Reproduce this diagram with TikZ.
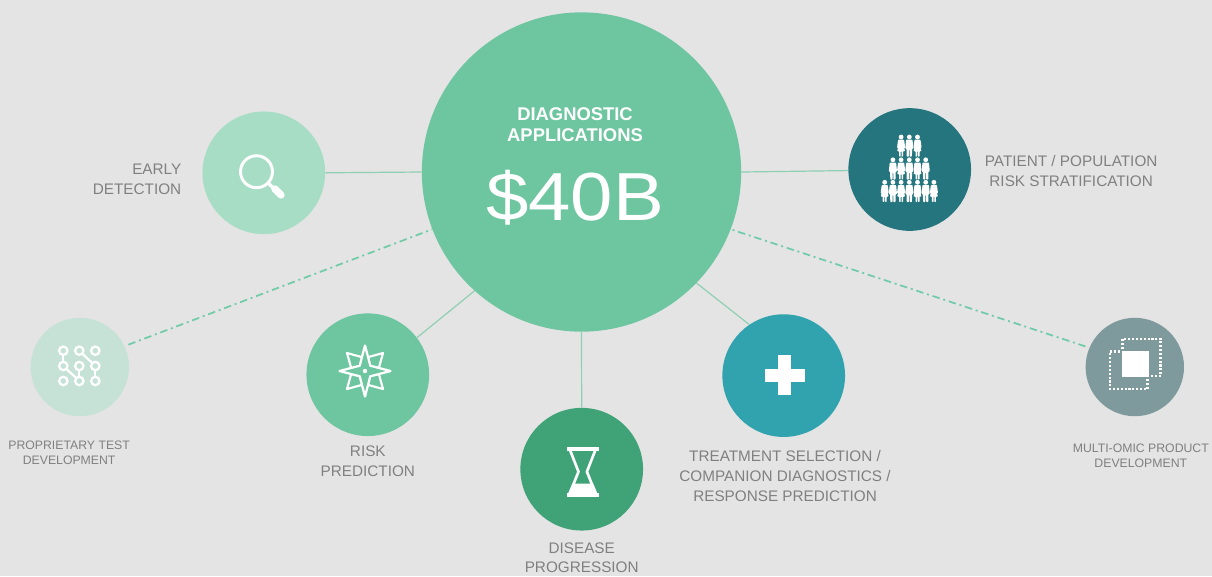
\documentclass[tikz,border=0pt]{standalone}
\usepackage{fontspec}
\setmainfont{Liberation Sans}
\usetikzlibrary{positioning}

\definecolor{paper}{HTML}{E4E4E4}
\definecolor{hubgreen}{HTML}{6EC6A0}
\definecolor{earlygreen}{HTML}{A8DDC5}
\definecolor{testgreen}{HTML}{C6E2D7}
\definecolor{darkgreen}{HTML}{3FA377}
\definecolor{petrol}{HTML}{25757F}
\definecolor{teal}{HTML}{31A3AE}
\definecolor{slate}{HTML}{7F9A9C}
\definecolor{linkgreen}{HTML}{8FD0B4}
\definecolor{dashgreen}{HTML}{6FCBA8}
\definecolor{textgray}{HTML}{808080}

\tikzset{
  walker/.pic={
    \fill[white] (0,2.3) circle (2.4);
    \fill[white,rounded corners=0.5] (-4.1,14) -- (-3.2,5) -- (3.2,5) -- (4.1,14) -- (2.8,14) -- (2.6,22) -- (0.4,22) -- (0.4,15) -- (-0.4,15) -- (-0.4,22) -- (-2.6,22) -- (-2.8,14) -- cycle;
  },
  walkerdress/.pic={
    \fill[white] (0,2.3) circle (2.4);
    \fill[white,rounded corners=0.5] (-4.1,13) -- (-3,5) -- (3,5) -- (4.1,13) -- (3,13) -- (4,16.5) -- (2,16.5) -- (2,22) -- (0.4,22) -- (0.4,16.5) -- (-0.4,16.5) -- (-0.4,22) -- (-2,22) -- (-2,16.5) -- (-4,16.5) -- (-3,13) -- cycle;
  }
}

\begin{document}
\begin{tikzpicture}[x=0.75pt, y=-0.75pt]
    % Define styles
    \tikzstyle{spot}=[circle,inner sep=0pt,minimum size=92pt]
    \tikzstyle{smallspot}=[circle,inner sep=0pt,minimum size=73.8pt]
    \tikzstyle{caption}=[inner sep=0pt,align=center,text=textgray,font=\fontsize{11.47}{15}\selectfont]
    \tikzstyle{smallcaption}=[inner sep=0pt,align=center,text=textgray,font=\fontsize{9.2}{11.25}\selectfont]
    \tikzstyle{link}=[draw=linkgreen,line width=0.9pt]
    \tikzstyle{dashlink}=[draw=dashgreen,line width=1.3pt,dash pattern=on 5.6pt off 2.85pt on 1.5pt off 2.85pt]
    \tikzstyle{icon}=[draw=white,line width=2pt]

    % Page
    \fill[paper] (0,0) rectangle (1212,576);
    \useasboundingbox (0,0) rectangle (1212,576);

    % Circles
    \node [circle,inner sep=0pt,minimum size=239.5pt,fill=hubgreen] (hub) at (581.5,172) {};
    \node [spot,fill=earlygreen] (early) at (263.8,172.8) {};
    \node [spot,fill=petrol] (patient) at (909.7,169.5) {};
    \node [smallspot,fill=testgreen] (proprietary) at (79.8,367) {};
    \node [spot,fill=hubgreen] (risk) at (367.8,374.7) {};
    \node [spot,fill=darkgreen] (disease) at (581.7,469.2) {};
    \node [spot,fill=teal] (treatment) at (783.7,375.6) {};
    \node [smallspot,fill=slate] (multiomic) at (1134.8,367) {};

    % Hub text
    \node [inner sep=0pt,align=center,text=white,font=\fontsize{13.8}{16}\selectfont\bfseries] (hubtitle) at (575,124.5) {DIAGNOSTIC\\APPLICATIONS};
    \node [inner sep=0pt,text=white,font=\fontsize{51}{55}\selectfont,xscale=1.12,below=21pt of hubtitle] (hubvalue) {\$40B};

    % Captions
    \node [caption,align=right,left=15.5pt of early,yshift=-5pt] (earlytext) {EARLY\\DETECTION};
    \node [caption,right=10pt of patient,yshift=-1pt] (patienttext) {PATIENT / POPULATION\\RISK STRATIFICATION};
    \node [smallcaption,below=18.4pt of proprietary,xshift=-8pt] (proprietarytext) {PROPRIETARY TEST\\DEVELOPMENT};
    \node [caption,below=7.2pt of risk] (risktext) {RISK\\PREDICTION};
    \node [caption,below=8.8pt of disease] (diseasetext) {DISEASE\\[-1pt]PROGRESSION};
    \node [caption,below=9.7pt of treatment,xshift=1pt] (treatmenttext) {TREATMENT SELECTION /\\COMPANION DIAGNOSTICS /\\RESPONSE PREDICTION};
    \node [smallcaption,below=20.2pt of multiomic,xshift=4.5pt] (multiomictext) {MULTI-OMIC PRODUCT\\DEVELOPMENT};

    % Define connections
    \path [link] (early.east) -- (hub.west);
    \path [link] (patient.181) -- (hub.0.3);
    \path [link] (risk.37) -- (hub.228.3);
    \path [link] (disease.north) -- (hub.south);
    \path [link] (treatment.124.5) -- (hub.-44.2);
    \path [dashlink,shorten <=3pt] (proprietary.25.6) -- (hub.201.1);
    \path [dashlink,shorten <=3pt] (multiomic.157.4) -- (hub.-21);

    % Magnifier icon
    \draw [icon,line width=2.2pt] (256.5,171.7) circle (16);
    \draw [icon,line width=2.6pt] (268.5,183.5) -- (274,188.5);
    \draw [icon,line width=5.5pt,line cap=round] (275,189) -- (281,195);

    % Network icon
    \foreach \x in {63.3,79.3,95.3}
        \foreach \y in {350.7,366,381}
            \draw [icon,line width=1.7pt] (\x,\y) circle (4.2);
    \draw [icon,line width=1.7pt] (63.3,354.9) -- (63.3,361.8);
    \draw [icon,line width=1.7pt] (66.3,369) -- (76.3,378);
    \draw [icon,line width=1.7pt] (82.3,353.7) -- (92.3,363);
    \draw [icon,line width=1.7pt] (79.3,370.2) -- (79.3,376.8);
    \draw [icon,line width=1.7pt] (95.3,370.2) -- (95.3,376.8);

    % Star icon
    \begin{scope}[shift={(365,371)}]
        \draw [icon,line width=1.6pt,line join=round,fill=hubgreen] (45:25.5) -- (90:13) -- (135:25.5) -- (180:13) -- (225:25.5) -- (270:13) -- (315:25.5) -- (0:13) -- cycle;
        \draw [icon,line width=1.7pt,line join=round,fill=hubgreen] (0:25.5) -- (45:7.5) -- (90:25.5) -- (135:7.5) -- (180:25.5) -- (225:7.5) -- (270:25.5) -- (315:7.5) -- cycle;
        \fill [white] (0,0) circle (2.2);
    \end{scope}

    % Hourglass icon
    \draw [icon,line width=2.6pt] (566.7,449) -- (598.7,449);
    \draw [icon,line width=2.6pt] (566.7,495) -- (598.7,495);
    \draw [icon,line join=round] (570,450) -- (578.5,471.7) -- (569.5,494);
    \draw [icon,line join=round] (595.4,450) -- (586.9,471.7) -- (595.9,494);
    \fill [white] (567.5,495) -- (572.5,483.5) -- (593,483.5) -- (598,495) -- cycle;

    % People icon
    \foreach \x/\kind in {-1/walkerdress,0/walker,1/walkerdress}
        \pic at (909.3+\x*8.2,134.7) {\kind};
    \foreach \x/\kind in {-2/walker,-1/walkerdress,0/walker,1/walkerdress,2/walker}
        \pic at (909.3+\x*8.2,157.5) {\kind};
    \foreach \x/\kind in {-3/walkerdress,-2/walker,-1/walkerdress,0/walker,1/walkerdress,2/walker,3/walkerdress}
        \pic at (909.3+\x*8.2,180) {\kind};

    % Plus icon
    \fill [white] (778,355) rectangle (791,395);
    \fill [white] (765,368.5) rectangle (805,381.5);

    % Overlapping squares icon
    \tikzstyle{dotline}=[draw=white,line width=1.9pt,dash pattern=on 1.6pt off 1.3pt]
    \fill [white] (1122,351) rectangle (1148.7,377);
    \draw [dotline] (1122.7,349) -- (1122.7,339) -- (1160.7,339) -- (1160.7,376) -- (1150,376);
    \draw [dotline] (1120,351.7) -- (1110,351.7) -- (1110,389) -- (1147.7,389) -- (1147.7,379);
\end{tikzpicture}
\end{document}
